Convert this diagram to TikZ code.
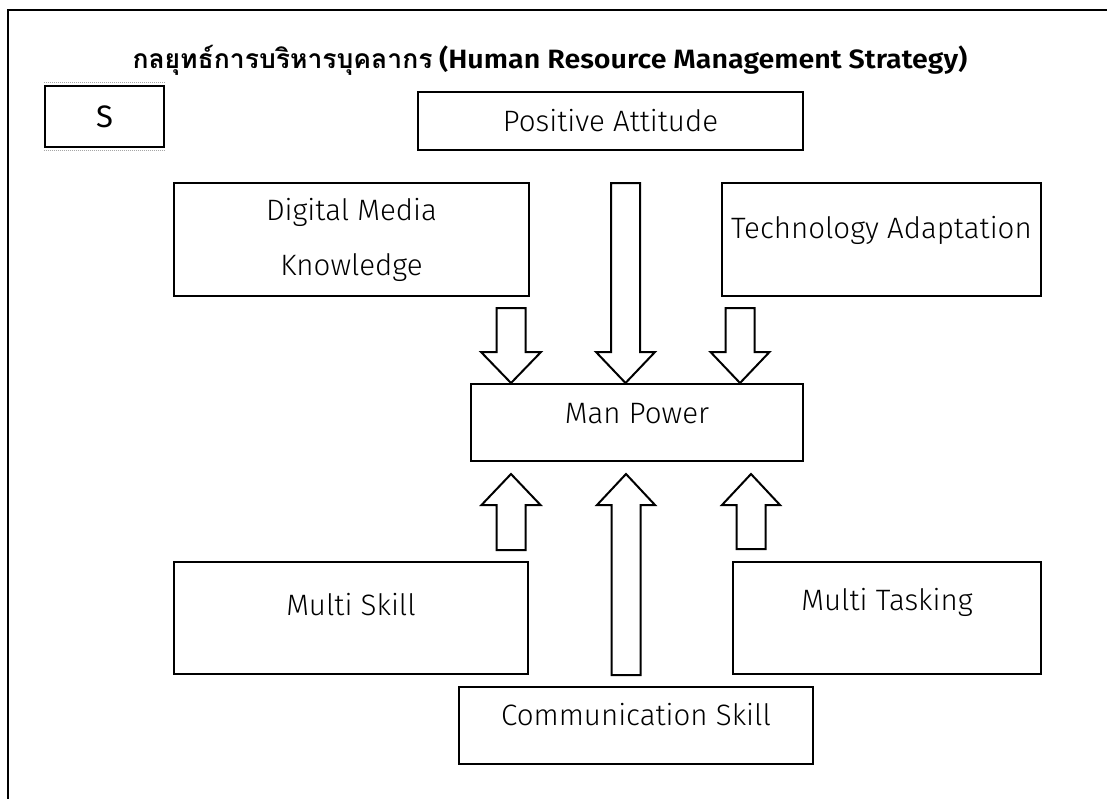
\documentclass[tikz,border=0pt]{standalone}
\usepackage{fontspec}
\usetikzlibrary{calc}
\setmainfont{Fira Sans}[UprightFont=* Light, BoldFont=* SemiBold]
\newfontfamily\regfont{Fira Sans}
\newfontfamily\thaifont[Script=Thai]{Loma}

\begin{document}
\begin{tikzpicture}[x=1pt,y=-1pt,
  box/.style={draw=black,line width=2pt,inner sep=0pt,
              font=\fontsize{29.5}{34}\selectfont},
  raise/.style={text height=20pt,text depth=#1},
  blk/.style={draw=black,line width=2pt,fill=white,line join=miter},
  frame/.style={draw=black,line width=2.5pt}]

\useasboundingbox (0,0) rectangle (1107,798);
\fill[white] (0,0) rectangle (1107,798);

% page frame (open to the right and bottom)
\coordinate (fbl) at (8,800);
\coordinate (ftl) at (8,10);
\coordinate (ftr) at (1109,10);
\draw[frame] (fbl) -- (ftl) -- (ftr);

% heading
\node[anchor=base,font=\bfseries\fontsize{26.5}{30}\selectfont] (title) at (550,68)
  {{\thaifont กลยุทธ์การบริหารบุคลากร} \scalebox{1.08}[1]{(Human Resource Management Strategy)}};

% strategy tag
\node[box,line width=2.5pt,minimum width=119,minimum height=61,
      font=\regfont\fontsize{31}{34}\selectfont] (s) at (104.5,116.5) {S};
\draw[gray!70,densely dotted,line width=1pt]
  ($(s.north west)+(0,-2)$) -- ($(s.north east)+(0,-2)$)
  ($(s.south west)+(0,2)$) -- ($(s.south east)+(0,2)$);

% factor boxes
\node[box,minimum width=385,minimum height=58] (pa) at (610.5,121) {Positive Attitude};
\node[box,minimum width=355,minimum height=113,align=center,
      font=\fontsize{29.5}{55}\selectfont] (dmk) at (351.5,239.5) {Digital Media\\Knowledge};
\node[box,minimum width=319,minimum height=113,raise=23pt] (ta) at (881.5,239.5) {Technology Adaptation};
\node[box,minimum width=332,minimum height=77,raise=19pt] (mp) at (637,422.5) {Man Power};
\node[box,minimum width=354,minimum height=112,raise=26pt] (ms) at (351,618) {Multi Skill};
\node[box,minimum width=308,minimum height=112,raise=36pt] (mt) at (887,618) {Multi Tasking};
\node[box,minimum width=354,minimum height=77,raise=21pt] (cs) at (636,725.5) {Communication Skill};

% block arrows into Man Power from above
\coordinate (d1) at (511,0 |- mp.north);
\coordinate (d2) at (625.5,0 |- mp.north);
\coordinate (d3) at (740,0 |- mp.north);
\draw[blk] (d1) -- ++(-30,-31) -- ++(15.5,0) -- ++(0,-44) -- ++(29,0) -- ++(0,44) -- ++(15.5,0) -- cycle;
\draw[blk] (d2) -- ++(-29.5,-31) -- ++(15,0) -- ++(0,-169) -- ++(29,0) -- ++(0,169) -- ++(15,0) -- cycle;
\draw[blk] (d3) -- ++(-29.5,-31) -- ++(15,0) -- ++(0,-44) -- ++(29,0) -- ++(0,44) -- ++(15,0) -- cycle;

% block arrows into Man Power from below
\coordinate (u1) at ($(511,0 |- mp.south)+(0,12)$);
\coordinate (u2) at ($(626,0 |- mp.south)+(0,12)$);
\coordinate (u3) at ($(751,0 |- mp.south)+(0,12)$);
\draw[blk] (u1) -- ++(-29.5,31) -- ++(15,0) -- ++(0,45) -- ++(29,0) -- ++(0,-45) -- ++(15,0) -- cycle;
\draw[blk] (u2) -- ++(-29,31) -- ++(14.5,0) -- ++(0,170) -- ++(29,0) -- ++(0,-170) -- ++(14.5,0) -- cycle;
\draw[blk] (u3) -- ++(-29,31) -- ++(14.5,0) -- ++(0,44) -- ++(29,0) -- ++(0,-44) -- ++(14.5,0) -- cycle;

\end{tikzpicture}
\end{document}
